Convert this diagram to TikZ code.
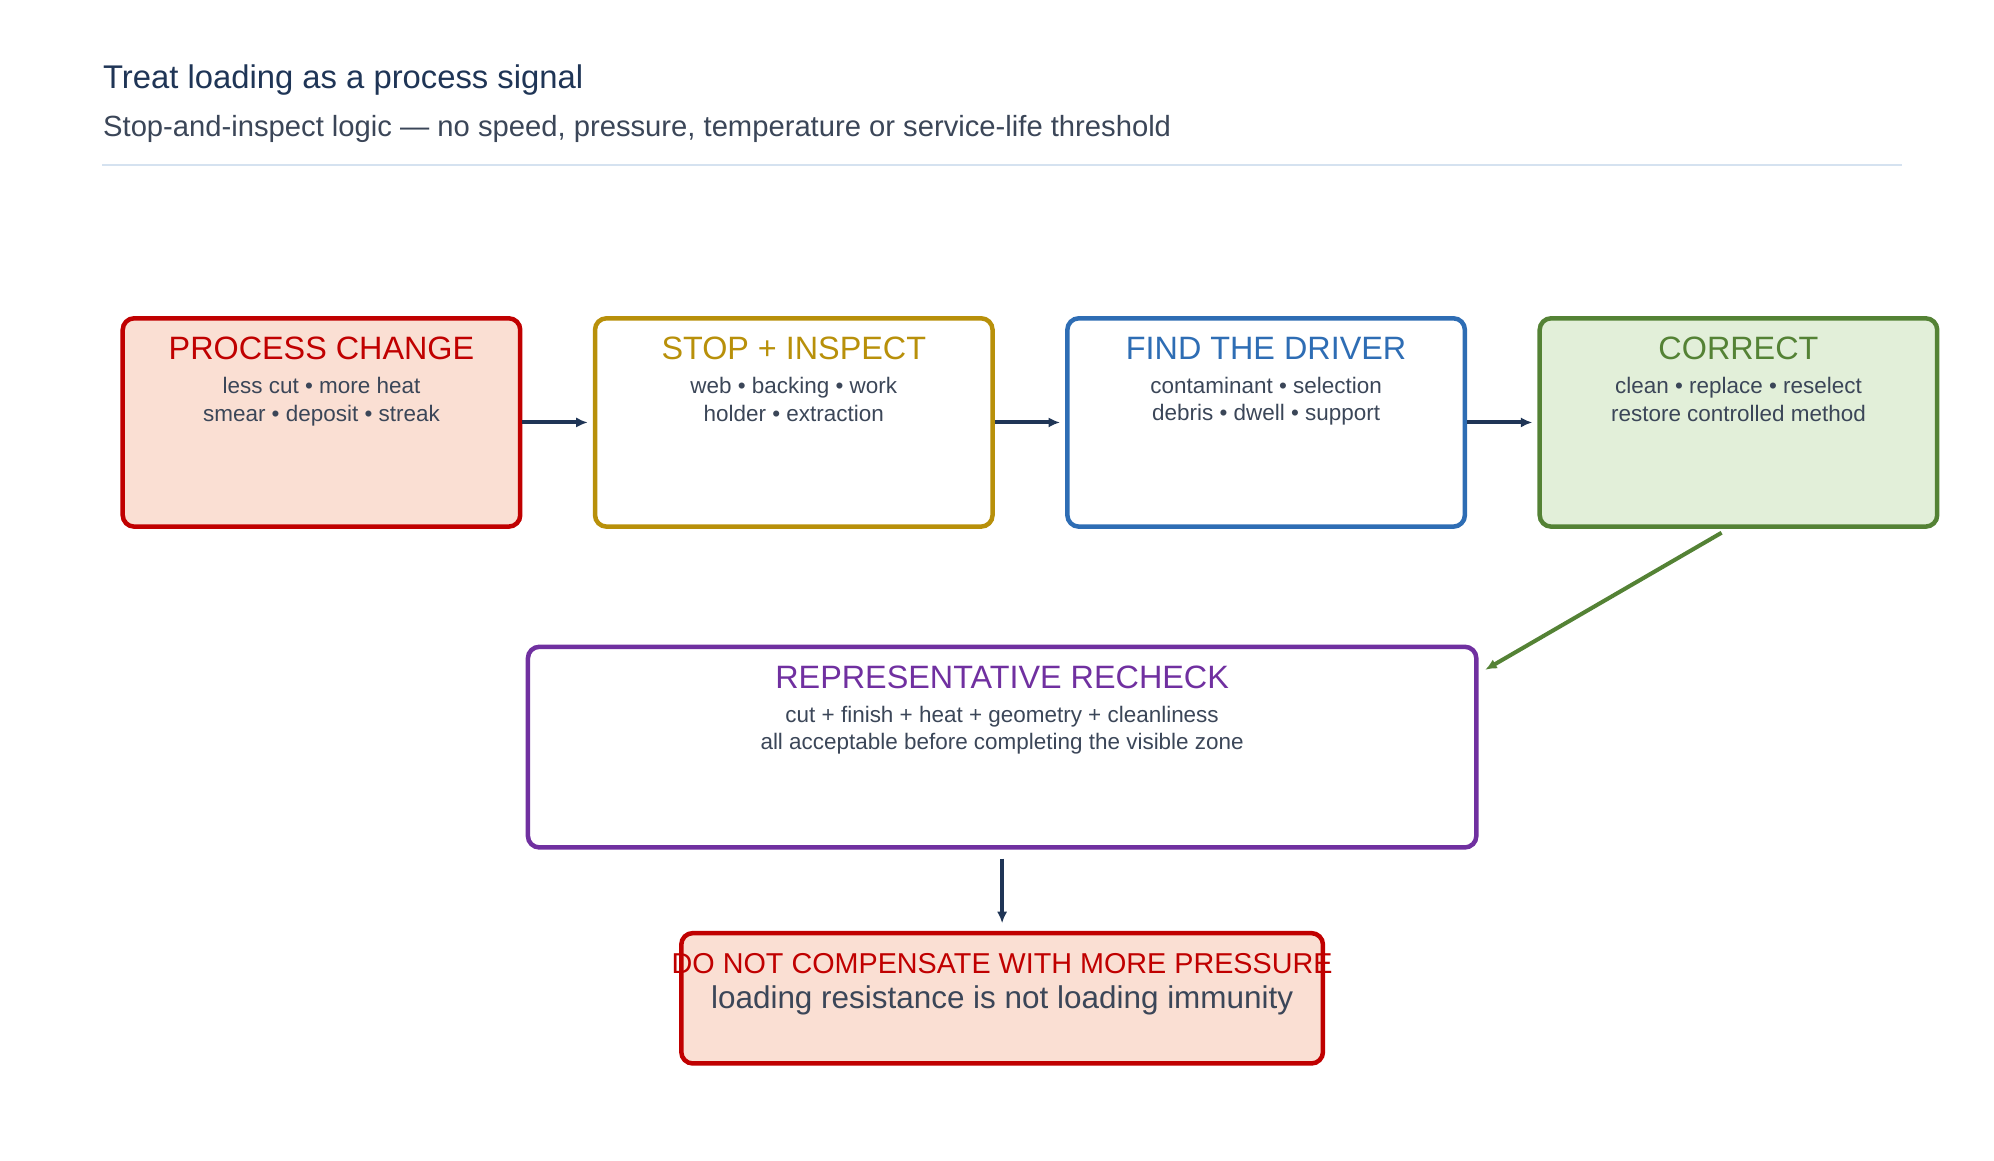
\documentclass[tikz,border=0pt]{standalone}
\usepackage{fontspec}
\setmainfont{Liberation Sans}
\usetikzlibrary{positioning,arrows.meta}
\definecolor{ink}{HTML}{1F3556}
\definecolor{txt}{HTML}{3B4658}
\definecolor{pcred}{HTML}{C00000}
\definecolor{pcfill}{HTML}{FADFD3}
\definecolor{gold}{HTML}{B8900A}
\definecolor{fdblue}{HTML}{2E6DB4}
\definecolor{cogreen}{HTML}{548235}
\definecolor{cofill}{HTML}{E2EFD9}
\definecolor{purp}{HTML}{7030A0}
\tikzset{
  box/.style={draw,line width=1pt,rounded corners=0.09cm,minimum width=3.11cm,minimum height=1.63cm},
  head/.style={font=\fontsize{7.2}{8}\selectfont,inner sep=0pt},
  body/.style={font=\fontsize{5}{6.1}\selectfont,text=txt,align=center,inner sep=0pt},
  flow/.style={-{Latex[length=0.09cm,width=0.08cm]},line width=0.9pt,draw=ink}
}
\begin{document}
\begin{tikzpicture}
\useasboundingbox (0,0) rectangle (15.6,9.08);
% header
\node[anchor=base west,text=ink,font=\fontsize{7.3}{8}\selectfont,inner sep=0pt] (title) at (0.8,8.39) {Treat loading as a process signal};
\node[anchor=base west,text=txt,font=\fontsize{6.5}{8}\selectfont,inner sep=0pt] (sub) at (0.8,8.01) {Stop-and-inspect logic — no speed, pressure, temperature or service-life threshold};
\draw[line width=0.6pt,draw=fdblue!20] (0.8,7.79) -- (14.88,7.79);
% top row
\node[box,draw=pcred,fill=pcfill] (pc) at (2.515,5.775) {};
\node[box,draw=gold,right=0.55cm of pc] (si) {};
\node[box,draw=fdblue,right=0.55cm of si] (fd) {};
\node[box,draw=cogreen,fill=cofill,right=0.55cm of fd] (co) {};
\node[head,text=pcred,below=0.16cm of pc.north] (pct) {PROCESS CHANGE};
\node[body,below=0.12cm of pct] {less cut • more heat\\smear • deposit • streak};
\node[head,text=gold,below=0.16cm of si.north] (sit) {STOP + INSPECT};
\node[body,below=0.12cm of sit] {web • backing • work\\holder • extraction};
\node[head,text=fdblue,below=0.16cm of fd.north] (fdt) {FIND THE DRIVER};
\node[body,below=0.12cm of fdt] {contaminant • selection\\debris • dwell • support};
\node[head,text=cogreen,below=0.16cm of co.north] (cot) {CORRECT};
\node[body,below=0.12cm of cot] {clean • replace • reselect\\restore controlled method};
% recheck
\node[box,draw=purp,minimum width=7.42cm,minimum height=1.57cm] (rc) at (7.84,3.235) {};
\node[head,text=purp,below=0.16cm of rc.north] (rct) {REPRESENTATIVE RECHECK};
\node[body,below=0.12cm of rct] {cut + finish + heat + geometry + cleanliness\\all acceptable before completing the visible zone};
% warning
\node[box,draw=pcred,fill=pcfill,minimum width=5.02cm,minimum height=1.02cm] (dn) at (7.84,1.27) {};
\node[inner sep=0pt,text=pcred,font=\fontsize{6.4}{7}\selectfont,below=0.17cm of dn.north] (dnt) {DO NOT COMPENSATE WITH MORE PRESSURE};
\node[inner sep=0pt,text=txt,font=\fontsize{7}{8}\selectfont,below=0.08cm of dnt] {loading resistance is not loading immunity};
% connectors
\draw[flow,shorten >=0.04cm] (pc) -- (si);
\draw[flow,shorten >=0.04cm] (si) -- (fd);
\draw[flow,shorten >=0.04cm] (fd) -- (co);
\draw[flow,draw=cogreen,shorten <=0.06cm,shorten >=0.06cm] (co.south) ++(-0.08,0) coordinate (cs) (cs) -- (rc.north east |- 0,3.81);
\draw[flow,shorten <=0.07cm,shorten >=0.06cm] (rc) -- (dn);
\end{tikzpicture}
\end{document}
